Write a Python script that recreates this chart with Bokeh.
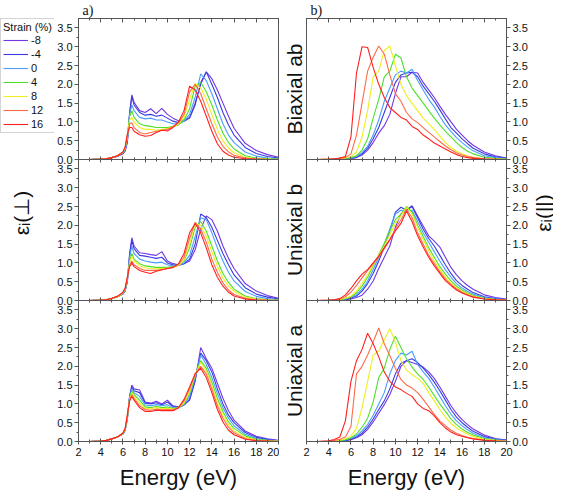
import math
from bokeh.plotting import figure
from bokeh.layouts import row
from bokeh.models import LinearAxis, Range1d, FixedTicker, Legend, LegendItem
from bokeh.core.properties import value
from bokeh.embed import file_html
from bokeh.resources import INLINE

# ---------------- data ----------------
STRAIN_LABELS = ["-8", "-4", "0", "4", "8", "12", "16"]
STRAIN_COLORS = ["#7038e6", "#3a3ae0", "#4a9cff", "#4fe02a", "#eeee22", "#ff6a4a", "#ff2020"]

X_TICKS = [2, 4, 6, 8, 10, 12, 14, 16, 18, 20]
X_MINOR = [3, 5, 7, 9, 11, 13, 15, 17, 19]
Y_TICKS = [0.0, 0.5, 1.0, 1.5, 2.0, 2.5, 3.0, 3.5]
Y_MINOR = [0.25, 0.75, 1.25, 1.75, 2.25, 2.75, 3.25]

ROW_NAMES = ["Biaxial ab", "Uniaxial b", "Uniaxial a"]
PANEL_TAGS = ["a)", "b)"]
Y_LABELS = ["\u03b5\u1d62(\u22a5)", "\u03b5\u1d62(||)"]
X_LABEL = "Energy (eV)"
LEGEND_TITLE = "Strain (%)"

# energy grid (eV) of the eps_i(perp) curves
ENERGY_PERP = [2, 3, 4, 4.5, 5, 5.5, 6, 6.2, 6.4, 6.6, 6.8, 7, 7.5, 8, 8.5, 9, 9.5, 10,
               10.5, 11, 11.5, 12, 12.5, 13, 13.5, 14, 14.5, 15, 15.5, 16, 17, 18, 19, 20]
# energy grid (eV) of the eps_i(par) curves
ENERGY_PAR = [2, 3, 4, 4.5, 5, 5.5, 6, 6.5, 7, 7.5, 8, 8.5, 9, 9.5, 10, 10.5, 11, 11.5,
              12, 12.5, 13, 13.5, 14, 14.5, 15, 15.5, 16, 16.5, 17, 18, 19, 20]

# rows follow STRAIN_LABELS
PERP_BIAXIAL_AB = [
    [0, 0, 0.01, 0.02, 0.05, 0.08, 0.15, 0.22, 0.45, 1.2, 1.72, 1.52, 1.3, 1.25, 1.35, 1.22, 1.36, 1.2, 1.1, 1.03, 1.05, 1.12, 1.5, 2.0, 2.33, 2.15, 1.85, 1.5, 1.15, 0.83, 0.43, 0.24, 0.13, 0.06],
    [0, 0, 0.01, 0.02, 0.05, 0.09, 0.16, 0.24, 0.5, 1.25, 1.68, 1.45, 1.25, 1.18, 1.2, 1.15, 1.18, 1.1, 1.02, 0.98, 1.02, 1.1, 1.45, 2.05, 2.33, 2.0, 1.65, 1.25, 0.92, 0.65, 0.32, 0.16, 0.08, 0.04],
    [0, 0, 0.01, 0.02, 0.05, 0.09, 0.17, 0.26, 0.55, 1.2, 1.45, 1.3, 1.12, 1.08, 1.1, 1.05, 1.05, 1.0, 0.95, 0.95, 1.02, 1.2, 1.65, 2.28, 2.1, 1.75, 1.35, 0.95, 0.65, 0.45, 0.2, 0.09, 0.04, 0.02],
    [0, 0, 0.01, 0.02, 0.05, 0.1, 0.18, 0.28, 0.6, 1.15, 1.3, 1.12, 0.95, 0.9, 0.88, 0.85, 0.85, 0.85, 0.88, 0.92, 1.05, 1.35, 1.95, 2.05, 1.8, 1.45, 1.05, 0.7, 0.45, 0.28, 0.1, 0.04, 0.02, 0.01],
    [0, 0, 0.01, 0.02, 0.05, 0.1, 0.19, 0.3, 0.62, 1.05, 1.12, 1.0, 0.85, 0.8, 0.8, 0.78, 0.8, 0.82, 0.87, 0.95, 1.12, 1.6, 2.02, 1.9, 1.6, 1.2, 0.8, 0.5, 0.3, 0.18, 0.06, 0.02, 0.01, 0],
    [0, 0, 0.01, 0.02, 0.05, 0.1, 0.2, 0.32, 0.65, 0.95, 0.98, 0.85, 0.72, 0.68, 0.72, 0.75, 0.78, 0.8, 0.88, 0.98, 1.2, 1.8, 2.0, 1.75, 1.35, 0.95, 0.6, 0.35, 0.2, 0.11, 0.04, 0.01, 0, 0],
    [0, 0, 0.01, 0.02, 0.05, 0.1, 0.2, 0.34, 0.68, 0.85, 0.85, 0.75, 0.66, 0.62, 0.64, 0.72, 0.78, 0.76, 0.85, 1.0, 1.3, 1.95, 1.85, 1.55, 1.15, 0.75, 0.42, 0.22, 0.12, 0.06, 0.02, 0.01, 0, 0],
]
PERP_UNIAXIAL_B = [
    [0, 0, 0.01, 0.02, 0.05, 0.1, 0.17, 0.25, 0.5, 1.25, 1.67, 1.45, 1.27, 1.25, 1.22, 1.2, 1.3, 1.05, 0.98, 0.95, 0.98, 1.05, 1.35, 1.9, 2.25, 2.15, 1.85, 1.45, 1.12, 0.85, 0.45, 0.25, 0.13, 0.06],
    [0, 0, 0.01, 0.02, 0.05, 0.1, 0.18, 0.26, 0.52, 1.2, 1.6, 1.38, 1.2, 1.18, 1.15, 1.12, 1.15, 1.0, 0.95, 0.93, 0.98, 1.1, 1.5, 2.3, 2.2, 1.95, 1.6, 1.25, 0.95, 0.68, 0.34, 0.17, 0.09, 0.04],
    [0, 0, 0.01, 0.02, 0.05, 0.1, 0.18, 0.27, 0.55, 1.15, 1.45, 1.25, 1.1, 1.05, 1.02, 1.0, 1.02, 0.95, 0.92, 0.93, 1.0, 1.2, 1.7, 2.2, 2.15, 1.8, 1.4, 1.05, 0.75, 0.52, 0.24, 0.11, 0.05, 0.02],
    [0, 0, 0.01, 0.02, 0.05, 0.1, 0.19, 0.28, 0.58, 1.05, 1.25, 1.1, 0.98, 0.92, 0.9, 0.88, 0.88, 0.88, 0.9, 0.93, 1.05, 1.4, 1.95, 2.1, 1.85, 1.45, 1.05, 0.72, 0.48, 0.3, 0.12, 0.05, 0.02, 0.01],
    [0, 0, 0.01, 0.02, 0.05, 0.1, 0.2, 0.3, 0.6, 1.0, 1.18, 1.05, 0.92, 0.87, 0.85, 0.84, 0.85, 0.86, 0.88, 0.93, 1.08, 1.5, 2.05, 2.0, 1.7, 1.3, 0.92, 0.6, 0.38, 0.24, 0.09, 0.04, 0.01, 0],
    [0, 0, 0.01, 0.02, 0.06, 0.11, 0.21, 0.32, 0.62, 0.95, 1.05, 0.95, 0.85, 0.8, 0.8, 0.8, 0.82, 0.85, 0.88, 0.95, 1.15, 1.65, 2.08, 1.9, 1.55, 1.1, 0.75, 0.47, 0.28, 0.16, 0.06, 0.02, 0.01, 0],
    [0, 0, 0.01, 0.02, 0.06, 0.11, 0.22, 0.33, 0.63, 0.9, 1.0, 0.9, 0.8, 0.75, 0.72, 0.78, 0.82, 0.85, 0.88, 0.98, 1.25, 1.8, 2.05, 1.8, 1.4, 0.95, 0.62, 0.38, 0.22, 0.12, 0.04, 0.01, 0, 0],
]
PERP_UNIAXIAL_A = [
    [0, 0, 0.01, 0.03, 0.07, 0.12, 0.2, 0.3, 0.6, 1.2, 1.5, 1.4, 1.37, 1.05, 1.02, 1.07, 1.0, 1.1, 0.95, 0.92, 0.98, 1.1, 1.6, 2.5, 2.2, 1.95, 1.55, 1.15, 0.82, 0.57, 0.28, 0.14, 0.07, 0.03],
    [0, 0, 0.01, 0.03, 0.07, 0.12, 0.2, 0.3, 0.62, 1.2, 1.45, 1.35, 1.3, 1.02, 1.0, 1.03, 0.98, 1.05, 0.93, 0.9, 0.97, 1.12, 1.65, 2.35, 2.15, 1.85, 1.4, 1.0, 0.7, 0.5, 0.24, 0.11, 0.05, 0.02],
    [0, 0, 0.01, 0.03, 0.07, 0.12, 0.21, 0.31, 0.63, 1.18, 1.4, 1.3, 1.2, 0.97, 0.95, 0.98, 0.95, 0.98, 0.9, 0.9, 0.98, 1.2, 1.7, 2.3, 2.05, 1.7, 1.28, 0.9, 0.62, 0.42, 0.19, 0.08, 0.04, 0.02],
    [0, 0, 0.01, 0.03, 0.07, 0.12, 0.21, 0.32, 0.65, 1.15, 1.35, 1.25, 1.1, 0.92, 0.9, 0.93, 0.9, 0.92, 0.88, 0.9, 1.0, 1.28, 1.75, 2.15, 1.95, 1.58, 1.15, 0.8, 0.52, 0.35, 0.15, 0.06, 0.03, 0.01],
    [0, 0, 0.01, 0.03, 0.07, 0.12, 0.22, 0.33, 0.68, 1.12, 1.3, 1.2, 1.02, 0.88, 0.87, 0.9, 0.87, 0.88, 0.86, 0.9, 1.03, 1.33, 1.78, 2.1, 1.88, 1.5, 1.05, 0.7, 0.45, 0.28, 0.11, 0.04, 0.02, 0.01],
    [0, 0, 0.01, 0.03, 0.07, 0.12, 0.22, 0.34, 0.7, 1.1, 1.25, 1.15, 0.95, 0.85, 0.83, 0.86, 0.84, 0.85, 0.84, 0.9, 1.08, 1.4, 1.8, 2.0, 1.8, 1.4, 0.95, 0.62, 0.38, 0.23, 0.08, 0.03, 0.01, 0],
    [0, 0, 0.01, 0.03, 0.07, 0.12, 0.23, 0.35, 0.72, 1.08, 1.2, 1.1, 0.9, 0.8, 0.8, 0.83, 0.82, 0.82, 0.82, 0.9, 1.12, 1.45, 1.8, 1.95, 1.7, 1.3, 0.85, 0.52, 0.3, 0.18, 0.06, 0.02, 0.01, 0],
]
PAR_BIAXIAL_AB = [
    [0, 0, 0, 0.01, 0.01, 0.02, 0.03, 0.05, 0.12, 0.25, 0.45, 0.7, 0.9, 1.2, 1.75, 2.2, 2.2, 2.32, 2.3, 2.05, 1.85, 1.65, 1.42, 1.2, 1.0, 0.8, 0.65, 0.5, 0.38, 0.2, 0.1, 0.04],
    [0, 0, 0, 0.01, 0.01, 0.02, 0.03, 0.06, 0.15, 0.3, 0.55, 0.85, 1.25, 1.65, 2.05, 2.25, 2.3, 2.32, 2.2, 1.95, 1.75, 1.55, 1.32, 1.08, 0.85, 0.7, 0.55, 0.42, 0.3, 0.15, 0.07, 0.03],
    [0, 0, 0, 0.01, 0.02, 0.03, 0.04, 0.08, 0.18, 0.35, 0.65, 1.05, 1.55, 1.9, 2.25, 2.35, 2.3, 2.4, 2.1, 1.85, 1.6, 1.4, 1.15, 0.92, 0.75, 0.58, 0.45, 0.33, 0.23, 0.1, 0.05, 0.02],
    [0, 0, 0, 0.01, 0.02, 0.03, 0.05, 0.1, 0.25, 0.55, 1.1, 1.6, 2.2, 2.35, 2.8, 2.7, 2.2, 1.9, 1.7, 1.5, 1.3, 1.1, 0.92, 0.75, 0.6, 0.45, 0.32, 0.22, 0.15, 0.06, 0.03, 0.01],
    [0, 0, 0.01, 0.01, 0.02, 0.04, 0.08, 0.2, 0.6, 1.3, 2.2, 2.35, 2.9, 3.02, 2.5, 2.0, 1.7, 1.5, 1.3, 1.1, 0.95, 0.8, 0.62, 0.45, 0.32, 0.22, 0.15, 0.1, 0.06, 0.02, 0.01, 0],
    [0, 0, 0.01, 0.02, 0.03, 0.05, 0.15, 0.65, 1.5, 2.35, 2.72, 3.02, 2.8, 2.25, 1.75, 1.55, 1.25, 1.08, 0.98, 0.85, 0.72, 0.6, 0.48, 0.36, 0.26, 0.18, 0.12, 0.08, 0.05, 0.02, 0.01, 0],
    [0, 0, 0.01, 0.02, 0.04, 0.08, 0.6, 2.3, 3.0, 2.98, 2.45, 2.0, 1.65, 1.38, 1.25, 1.12, 1.05, 0.88, 0.8, 0.65, 0.55, 0.44, 0.36, 0.28, 0.2, 0.13, 0.08, 0.05, 0.03, 0.01, 0, 0],
]
PAR_UNIAXIAL_B = [
    [0, 0, 0, 0.01, 0.01, 0.02, 0.04, 0.08, 0.14, 0.3, 0.52, 0.85, 1.15, 1.45, 1.95, 2.3, 2.4, 2.52, 2.25, 1.98, 1.72, 1.58, 1.42, 1.15, 0.88, 0.68, 0.52, 0.4, 0.3, 0.15, 0.08, 0.04],
    [0, 0, 0, 0.01, 0.02, 0.03, 0.06, 0.12, 0.25, 0.45, 0.72, 1.05, 1.42, 1.85, 2.35, 2.48, 2.4, 2.5, 2.2, 1.9, 1.65, 1.45, 1.2, 0.95, 0.72, 0.53, 0.4, 0.3, 0.21, 0.1, 0.05, 0.02],
    [0, 0, 0, 0.01, 0.02, 0.04, 0.08, 0.15, 0.3, 0.52, 0.82, 1.15, 1.5, 1.9, 2.3, 2.4, 2.38, 2.4, 2.1, 1.8, 1.55, 1.3, 1.05, 0.82, 0.62, 0.45, 0.33, 0.24, 0.17, 0.08, 0.04, 0.02],
    [0, 0, 0, 0.01, 0.02, 0.05, 0.1, 0.2, 0.38, 0.62, 0.92, 1.22, 1.52, 1.85, 2.15, 2.3, 2.5, 2.35, 2.0, 1.7, 1.4, 1.15, 0.9, 0.7, 0.52, 0.38, 0.28, 0.2, 0.13, 0.06, 0.03, 0.01],
    [0, 0, 0, 0.01, 0.03, 0.06, 0.12, 0.25, 0.45, 0.68, 0.95, 1.2, 1.45, 1.75, 2.05, 2.25, 2.48, 2.3, 1.95, 1.62, 1.32, 1.05, 0.82, 0.62, 0.47, 0.34, 0.25, 0.17, 0.11, 0.05, 0.02, 0.01],
    [0, 0, 0.01, 0.02, 0.04, 0.1, 0.22, 0.4, 0.6, 0.8, 0.98, 1.15, 1.38, 1.62, 1.9, 2.15, 2.42, 2.2, 1.8, 1.5, 1.2, 0.98, 0.76, 0.57, 0.43, 0.31, 0.22, 0.15, 0.1, 0.04, 0.02, 0.01],
    [0, 0, 0.01, 0.02, 0.05, 0.15, 0.32, 0.52, 0.7, 0.82, 1.0, 1.18, 1.4, 1.62, 1.85, 2.05, 2.38, 2.1, 1.72, 1.42, 1.15, 0.92, 0.72, 0.53, 0.4, 0.28, 0.2, 0.14, 0.09, 0.04, 0.02, 0.01],
]
PAR_UNIAXIAL_A = [
    [0, 0, 0, 0.01, 0.01, 0.02, 0.05, 0.1, 0.18, 0.32, 0.52, 0.75, 0.98, 1.25, 1.6, 2.0, 2.15, 2.1, 2.05, 1.98, 1.85, 1.68, 1.45, 1.2, 0.95, 0.75, 0.58, 0.45, 0.33, 0.17, 0.08, 0.04],
    [0, 0, 0, 0.01, 0.02, 0.03, 0.06, 0.12, 0.22, 0.38, 0.6, 0.85, 1.08, 1.4, 1.8, 2.08, 2.15, 2.2, 2.1, 1.95, 1.78, 1.58, 1.35, 1.1, 0.85, 0.65, 0.5, 0.38, 0.27, 0.13, 0.06, 0.03],
    [0, 0, 0, 0.01, 0.02, 0.04, 0.08, 0.15, 0.28, 0.45, 0.7, 1.0, 1.3, 1.8, 2.15, 2.35, 2.3, 2.4, 2.05, 1.85, 1.68, 1.45, 1.2, 0.95, 0.73, 0.55, 0.42, 0.31, 0.22, 0.1, 0.05, 0.02],
    [0, 0, 0, 0.01, 0.03, 0.05, 0.1, 0.2, 0.38, 0.62, 1.05, 1.7, 1.95, 2.45, 2.8, 2.5, 2.2, 1.98, 1.8, 1.65, 1.45, 1.22, 1.0, 0.8, 0.6, 0.45, 0.33, 0.24, 0.17, 0.08, 0.04, 0.02],
    [0, 0, 0, 0.02, 0.04, 0.07, 0.15, 0.35, 0.9, 1.6, 2.3, 2.4, 2.7, 3.0, 2.65, 2.15, 1.9, 1.78, 1.68, 1.55, 1.3, 1.08, 0.85, 0.65, 0.48, 0.36, 0.27, 0.19, 0.13, 0.06, 0.03, 0.01],
    [0, 0, 0.01, 0.03, 0.06, 0.12, 0.4, 1.8, 2.0, 2.3, 2.65, 3.02, 2.6, 2.28, 1.95, 1.65, 1.5, 1.42, 1.3, 1.12, 0.92, 0.72, 0.55, 0.42, 0.3, 0.22, 0.16, 0.11, 0.08, 0.04, 0.02, 0.01],
    [0, 0, 0.02, 0.05, 0.12, 0.55, 1.6, 2.15, 2.45, 2.88, 2.6, 2.25, 1.85, 1.6, 1.45, 1.38, 1.28, 1.2, 1.0, 0.88, 0.82, 0.68, 0.5, 0.36, 0.25, 0.18, 0.14, 0.1, 0.07, 0.03, 0.01, 0],
]

PANELS = [
    [PERP_BIAXIAL_AB, PERP_UNIAXIAL_B, PERP_UNIAXIAL_A],
    [PAR_BIAXIAL_AB, PAR_UNIAXIAL_B, PAR_UNIAXIAL_A],
]
ENERGIES = [ENERGY_PERP, ENERGY_PAR]

# ---------------- styling ----------------
FONT = "Liberation Sans"
FRAME_W, FRAME_H = 200, 141
Y_SPAN = 3.75                      # visible value range of one panel
EDGE = "#555555"
TXT = "#111111"
TICK_FS = "11px"
LEG_W = 54                         # strip left of the left column
R_W = 21                           # strip right of the right column
TOP_B, BOT_B = 15, 50
OFFSETS = [(2 - r) * Y_SPAN for r in range(3)]   # panel r sits this far up
PX = Y_SPAN / FRAME_H              # value units per pixel
TOTAL_H = TOP_B + 3 * FRAME_H + BOT_B


def base_axis(ax):
    ax.axis_line_color = EDGE
    ax.major_tick_line_color = EDGE
    ax.minor_tick_line_color = EDGE
    ax.major_label_text_font = FONT
    ax.major_label_text_color = TXT
    ax.axis_label_text_font = FONT
    ax.axis_label_text_font_style = "normal"
    ax.axis_label_text_color = TXT


def hide_labels(ax):
    ax.major_label_text_font_size = "0px"
    ax.major_label_text_color = None
    ax.major_label_standoff = 0


def x_ticker():
    return FixedTicker(ticks=X_TICKS, minor_ticks=X_MINOR)


def make_column(col):
    bl, br = (77 - LEG_W, 1) if col == 0 else (26, 47 - R_W)
    p = figure(frame_width=FRAME_W, frame_height=3 * FRAME_H,
               x_range=Range1d(2, 20), y_range=Range1d(0, 3 * Y_SPAN),
               x_axis_location=None, y_axis_location=None,
               toolbar_location=None, output_backend="svg",
               min_border_left=bl, min_border_right=br,
               min_border_top=TOP_B, min_border_bottom=BOT_B,
               title=PANEL_TAGS[col])
    p.extra_y_ranges = {f"panel{r}": Range1d(-OFFSETS[r], 3 * Y_SPAN - OFFSETS[r])
                        for r in range(3)}
    p.outline_line_color = EDGE
    p.outline_line_width = 1
    p.background_fill_color = "white"
    p.border_fill_color = "white"
    p.xgrid.visible = False
    p.ygrid.visible = False
    p.title.text_font = "Liberation Serif"
    p.title.text_font_size = "14px"
    p.title.text_font_style = "normal"
    p.title.align = "left"
    p.title.standoff = 1
    p.title.offset = 4
    p.title.text_color = TXT

    for r in range(3):
        for ys, c in zip(PANELS[col][r], STRAIN_COLORS):
            p.line(ENERGIES[col], ys, line_color=c, line_width=1.1,
                   y_range_name=f"panel{r}")

    # bottom x axis with labels
    xb = LinearAxis(ticker=x_ticker())
    base_axis(xb)
    xb.major_tick_in, xb.major_tick_out = 3, 3
    xb.minor_tick_in, xb.minor_tick_out = 2, 2
    xb.major_label_text_font_size = TICK_FS
    xb.major_label_standoff = 3
    xb.axis_label = X_LABEL
    xb.axis_label_text_font_size = "22px"
    xb.axis_label_standoff = 6
    p.add_layout(xb, "below")

    # panel separators with crossing ticks
    for yloc in (Y_SPAN, 2 * Y_SPAN):
        xs = LinearAxis(ticker=x_ticker(), fixed_location=yloc)
        base_axis(xs)
        xs.major_tick_in, xs.major_tick_out = 3, 3
        xs.minor_tick_in, xs.minor_tick_out = 2, 2
        hide_labels(xs)
        p.add_layout(xs, "below")

    # top x axis (ticks only)
    xa = LinearAxis(ticker=x_ticker())
    base_axis(xa)
    xa.major_tick_in, xa.major_tick_out = 4, 0
    xa.minor_tick_in, xa.minor_tick_out = 2, 0
    hide_labels(xa)
    p.add_layout(xa, "above")

    # value axis: one set of ticks per panel
    ticks = [o + t for o in OFFSETS for t in Y_TICKS]
    minors = [o + m for o in OFFSETS for m in Y_MINOR]
    ya = LinearAxis(ticker=FixedTicker(ticks=ticks, minor_ticks=minors),
                    major_label_overrides={o + t: f"{t:.1f}" for o in OFFSETS for t in Y_TICKS})
    base_axis(ya)
    ya.major_tick_out, ya.major_tick_in = 4, 0
    ya.minor_tick_out, ya.minor_tick_in = 2, 0
    ya.major_label_text_font_size = TICK_FS
    ya.major_label_standoff = 2
    p.add_layout(ya, "left" if col == 0 else "right")

    if col == 1:
        centers = [o + Y_SPAN / 2 for o in OFFSETS]
        yn = LinearAxis(ticker=FixedTicker(ticks=centers, minor_ticks=[]),
                        major_label_overrides={c: n for c, n in zip(centers, ROW_NAMES)})
        base_axis(yn)
        yn.major_tick_out = yn.major_tick_in = 0
        yn.minor_tick_out = yn.minor_tick_in = 0
        yn.major_label_text_font_size = "21px"
        yn.major_label_orientation = "vertical"
        yn.major_label_standoff = 1
        p.add_layout(yn, "left")
    return p


def strip(width):
    """Blank full-height figure whose value scale lines up with the panel columns."""
    s = figure(width=width, height=TOTAL_H,
               x_range=Range1d(0, width),
               y_range=Range1d(-BOT_B * PX, 3 * Y_SPAN + TOP_B * PX),
               x_axis_location=None, y_axis_location=None,
               toolbar_location=None, output_backend="svg",
               min_border_left=0, min_border_right=0,
               min_border_top=0, min_border_bottom=0)
    s.outline_line_color = None
    s.xgrid.visible = False
    s.ygrid.visible = False
    return s


left_fig = make_column(0)
right_fig = make_column(1)

# left strip: legend and the left value-axis title
side = strip(LEG_W)
side.extra_x_ranges = {"off": Range1d(100, 101)}
# legend proxies: the top-left curves, on a range that keeps them out of view
proxies = [side.line(ENERGY_PERP, ys, line_color=c, line_width=1.1, x_range_name="off")
           for ys, c in zip(PERP_BIAXIAL_AB, STRAIN_COLORS)]
side.text(x=[21], y=[OFFSETS[1] + Y_SPAN / 2], text=[Y_LABELS[0]], angle=math.pi / 2,
          text_align="center", text_baseline="middle", text_font=value(FONT),
          text_font_size="21px", text_color=TXT)

legend = Legend(items=[LegendItem(label=l, renderers=[rr])
                       for l, rr in zip(STRAIN_LABELS, proxies)],
                location="top_left", title=LEGEND_TITLE)
legend.title_text_font = FONT
legend.title_text_font_size = "11px"
legend.title_text_font_style = "normal"
legend.title_text_color = TXT
legend.title_standoff = 1
legend.label_text_font = FONT
legend.label_text_font_size = "11px"
legend.label_text_color = TXT
legend.glyph_width = 25
legend.glyph_height = 12
legend.label_height = 12
legend.label_standoff = 3
legend.spacing = 2
legend.padding = 2
legend.margin = 0
legend.border_line_color = "#aaaaaa"
legend.background_fill_color = "white"
legend.background_fill_alpha = 1.0
side.add_layout(legend, "center")

# right strip: the right value-axis title
rside = strip(R_W)
rside.text(x=[R_W / 2], y=[OFFSETS[1] + Y_SPAN / 2], text=[Y_LABELS[1]], angle=math.pi / 2,
           text_align="center", text_baseline="middle", text_font=value(FONT),
           text_font_size="21px", text_color=TXT)

layout = row(side, left_fig, right_fig, rside)

open("out.html", "w").write(file_html(layout, INLINE))
